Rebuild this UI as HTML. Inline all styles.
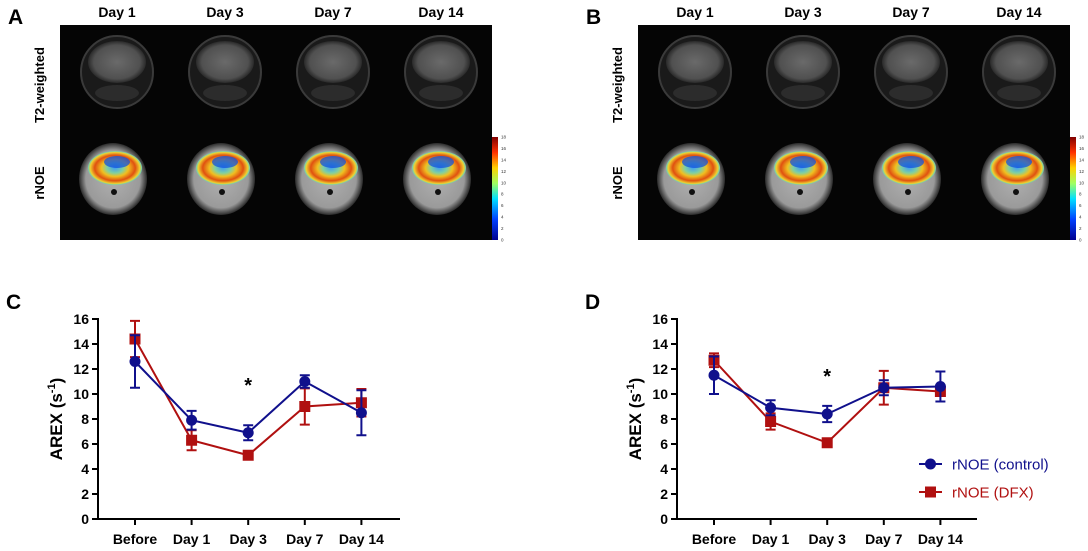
<!DOCTYPE html>
<html><head><meta charset="utf-8"><style>
body{margin:0;background:#fff;width:1088px;height:551px;overflow:hidden;font-family:"Liberation Sans",sans-serif}
svg{position:absolute;left:0;top:0}
</style></head><body>
<svg id="fig" width="1088" height="551" viewBox="0 0 1088 551" xmlns="http://www.w3.org/2000/svg">
<defs>
<radialGradient id="headR" cx="50%" cy="50%" r="50%"><stop offset="0" stop-color="#b0b0b0"/><stop offset="0.8" stop-color="#9a9a9a"/><stop offset="1" stop-color="#2a2a2a"/></radialGradient>
<radialGradient id="brainT2" cx="50%" cy="50%" r="50%"><stop offset="0" stop-color="#6a6a6a"/><stop offset="0.8" stop-color="#505050"/><stop offset="1" stop-color="#2a2a2a"/></radialGradient>
<linearGradient id="cmap" x1="0" y1="1" x2="0" y2="0"><stop offset="0" stop-color="#00008f"/><stop offset="0.2" stop-color="#0040ff"/><stop offset="0.4" stop-color="#00e0ff"/><stop offset="0.55" stop-color="#a0ff60"/><stop offset="0.7" stop-color="#ffd000"/><stop offset="0.85" stop-color="#ff3000"/><stop offset="1" stop-color="#800000"/></linearGradient>
<radialGradient id="noe" cx="50%" cy="50%" r="50%"><stop offset="0" stop-color="#40a0f0"/><stop offset="0.3" stop-color="#80d0a0"/><stop offset="0.5" stop-color="#f0c020"/><stop offset="0.75" stop-color="#e05010"/><stop offset="0.92" stop-color="#f0d030"/><stop offset="1" stop-color="#60d0c0"/></radialGradient>
</defs>
<g id="panels"></g>
<g id="charts"></g>
</svg>
<script>
const days=["Day 1","Day 3","Day 7","Day 14"];
const cats=["Before","Day 1","Day 3","Day 7","Day 14"];
const yTicks=[0,2,4,6,8,10,12,14,16];
const cCtrl=[12.6,7.9,6.9,11.0,8.5];
const cCtrlErr=[2.1,0.75,0.6,0.5,1.8];
const cDfx=[14.4,6.3,5.1,9.0,9.3];
const cDfxErr=[1.45,0.8,0.15,1.45,1.1];
const dCtrl=[11.5,8.9,8.4,10.5,10.6];
const dCtrlErr=[1.5,0.6,0.65,0.6,1.2];
const dDfx=[12.7,7.8,6.1,10.5,10.2];
const dDfxErr=[0.55,0.65,0.15,1.35,0.3];
const NS="http://www.w3.org/2000/svg";
function mk(tag,attrs,parent,txt){const e=document.createElementNS(NS,tag);for(const k in attrs)e.setAttribute(k,attrs[k]);if(txt!==undefined)e.textContent=txt;parent.appendChild(e);return e;}
const P=document.getElementById('panels');
function panel(x0,label,name){
  const g=mk('g',{},P);
  
  
  const L=mk('text',{x:x0-52,y:24,'font-size':21,'font-weight':'bold'},g,label);
  
  
  const bg=mk('rect',{x:x0,y:25,width:432,height:215,fill:'#050505'},g);
  
  
  const cw=108;
  days.forEach((d,i)=>{
    const cx=x0+57+i*cw;
    const t=mk('text',{x:cx,y:17,'font-size':14,'font-weight':'bold','text-anchor':'middle'},g,d);
    
    
    const h=mk('ellipse',{cx:cx,cy:72,rx:36,ry:36,fill:'#1a1a1a',stroke:'#3a3a3a','stroke-width':2},g);
    
    
    mk('ellipse',{cx:cx,cy:62,rx:29,ry:21,fill:'url(#brainT2)'},g);
    mk('ellipse',{cx:cx,cy:93,rx:22,ry:8,fill:'#2c2c2c'},g);
    const r=mk('ellipse',{cx:cx-4,cy:179,rx:34,ry:36,fill:'url(#headR)'},g);
    
    
    mk('ellipse',{cx:cx-2,cy:168,rx:27,ry:17,fill:'url(#noe)'},g);
    mk('ellipse',{cx:cx,cy:162,rx:13,ry:6,fill:'#1050e0',opacity:0.75},g);
    mk('circle',{cx:cx-3,cy:192,r:3,fill:'#111'},g);
  });
  const tl=mk('text',{x:0,y:0,'font-size':13,'font-weight':'bold','text-anchor':'middle',transform:`translate(${x0-16},85) rotate(-90)`},g,'T2-weighted');
  
  
  const rl=mk('text',{x:0,y:0,'font-size':13,'font-weight':'bold','text-anchor':'middle',transform:`translate(${x0-16},183) rotate(-90)`},g,'rNOE');
  
  
  const cb=mk('rect',{x:x0+432,y:137,width:6,height:103,fill:'url(#cmap)'},g);
  
  
  for(let v=0;v<=18;v+=2){mk('text',{x:x0+441,y:240-v/18*103+1.5,'font-size':4.5,fill:'#333'},g,v);}
}
panel(60,'A','panel-a');
panel(638,'B','panel-b');

const C=document.getElementById('charts');
function chart(ax,xEnd,label,ctrl,ctrlE,dfx,dfxE,starV,legend,name){
  const g=mk('g',{},C);
  
  
  const y0=519,y16=319;
  const ys=v=>y0-(v/16)*(y0-y16);
  const xs=i=>ax+37+i*56.6;
  const L=mk('text',{x:ax-92,y:309,'font-size':21,'font-weight':'bold'},g,label);
  
  
  const ya=mk('line',{x1:ax,y1:y16-1,x2:ax,y2:y0+1,stroke:'#000','stroke-width':2},g);
  
  
  const xa=mk('line',{x1:ax-1,y1:y0,x2:xEnd,y2:y0,stroke:'#000','stroke-width':2},g);
  
  
  yTicks.forEach(v=>{
    mk('line',{x1:ax-6,y1:ys(v),x2:ax,y2:ys(v),stroke:'#000','stroke-width':2},g);
    const t=mk('text',{x:ax-9,y:ys(v)+5,'font-size':14,'font-weight':'bold','text-anchor':'end'},g,v);
    
    
  });
  cats.forEach((c,i)=>{
    mk('line',{x1:xs(i),y1:y0,x2:xs(i),y2:y0+6,stroke:'#000','stroke-width':2},g);
    const t=mk('text',{x:xs(i),y:544,'font-size':14,'font-weight':'bold','text-anchor':'middle'},g,c);
    
    
  });
  const yt=mk('text',{x:0,y:0,'font-size':17,'font-weight':'bold','text-anchor':'middle',transform:`translate(${ax-36},${ys(8)}) rotate(-90)`},g);
  
  
  yt.innerHTML='AREX (s<tspan dy="-7" font-size="11">-1</tspan><tspan dy="7">)</tspan>';
  function series(vals,errs,col,sq,sname){
    const sg=mk('g',{},g);
    
    
    mk('polyline',{points:vals.map((v,i)=>xs(i)+','+ys(v)).join(' '),fill:'none',stroke:col,'stroke-width':2},sg);
    vals.forEach((v,i)=>{
      const x=xs(i);
      const eb=mk('path',{d:`M${x},${ys(v-errs[i])}V${ys(v+errs[i])}M${x-5},${ys(v-errs[i])}H${x+5}M${x-5},${ys(v+errs[i])}H${x+5}`,stroke:col,'stroke-width':2,fill:'none'},sg);
      
      
      const m=sq?mk('rect',{x:x-5.5,y:ys(v)-5.5,width:11,height:11,fill:col},sg):mk('circle',{cx:x,cy:ys(v),r:5.5,fill:col},sg);
      
      
    });
  }
  series(dfx,dfxE,'#b01010',true,'series-dfx');
  series(ctrl,ctrlE,'#10108c',false,'series-control');
  const st=mk('text',{x:xs(2),y:ys(starV)+9,'font-size':20,'font-weight':'bold','text-anchor':'middle'},g,'*');
  
  
  if(legend){
    const lg=mk('g',{},g);
    
    
    [['rNOE (control)','#10108c',false,464],['rNOE (DFX)','#b01010',true,492]].forEach(([t,col,sq,y])=>{
      const e=mk('g',{},lg);
      
      
      mk('line',{x1:919,y1:y,x2:942,y2:y,stroke:col,'stroke-width':2},e);
      if(sq)mk('rect',{x:925,y:y-5.5,width:11,height:11,fill:col},e);else mk('circle',{cx:930.5,cy:y,r:5.5,fill:col},e);
      mk('text',{x:952,y:y+5.5,'font-size':15,fill:col},e,t);
    });
  }
}
chart(98,400,'C',cCtrl,cCtrlErr,cDfx,cDfxErr,10.9,false,'chart-c');
chart(677,977,'D',dCtrl,dCtrlErr,dDfx,dDfxErr,11.6,true,'chart-d');
</script>
</body></html>
